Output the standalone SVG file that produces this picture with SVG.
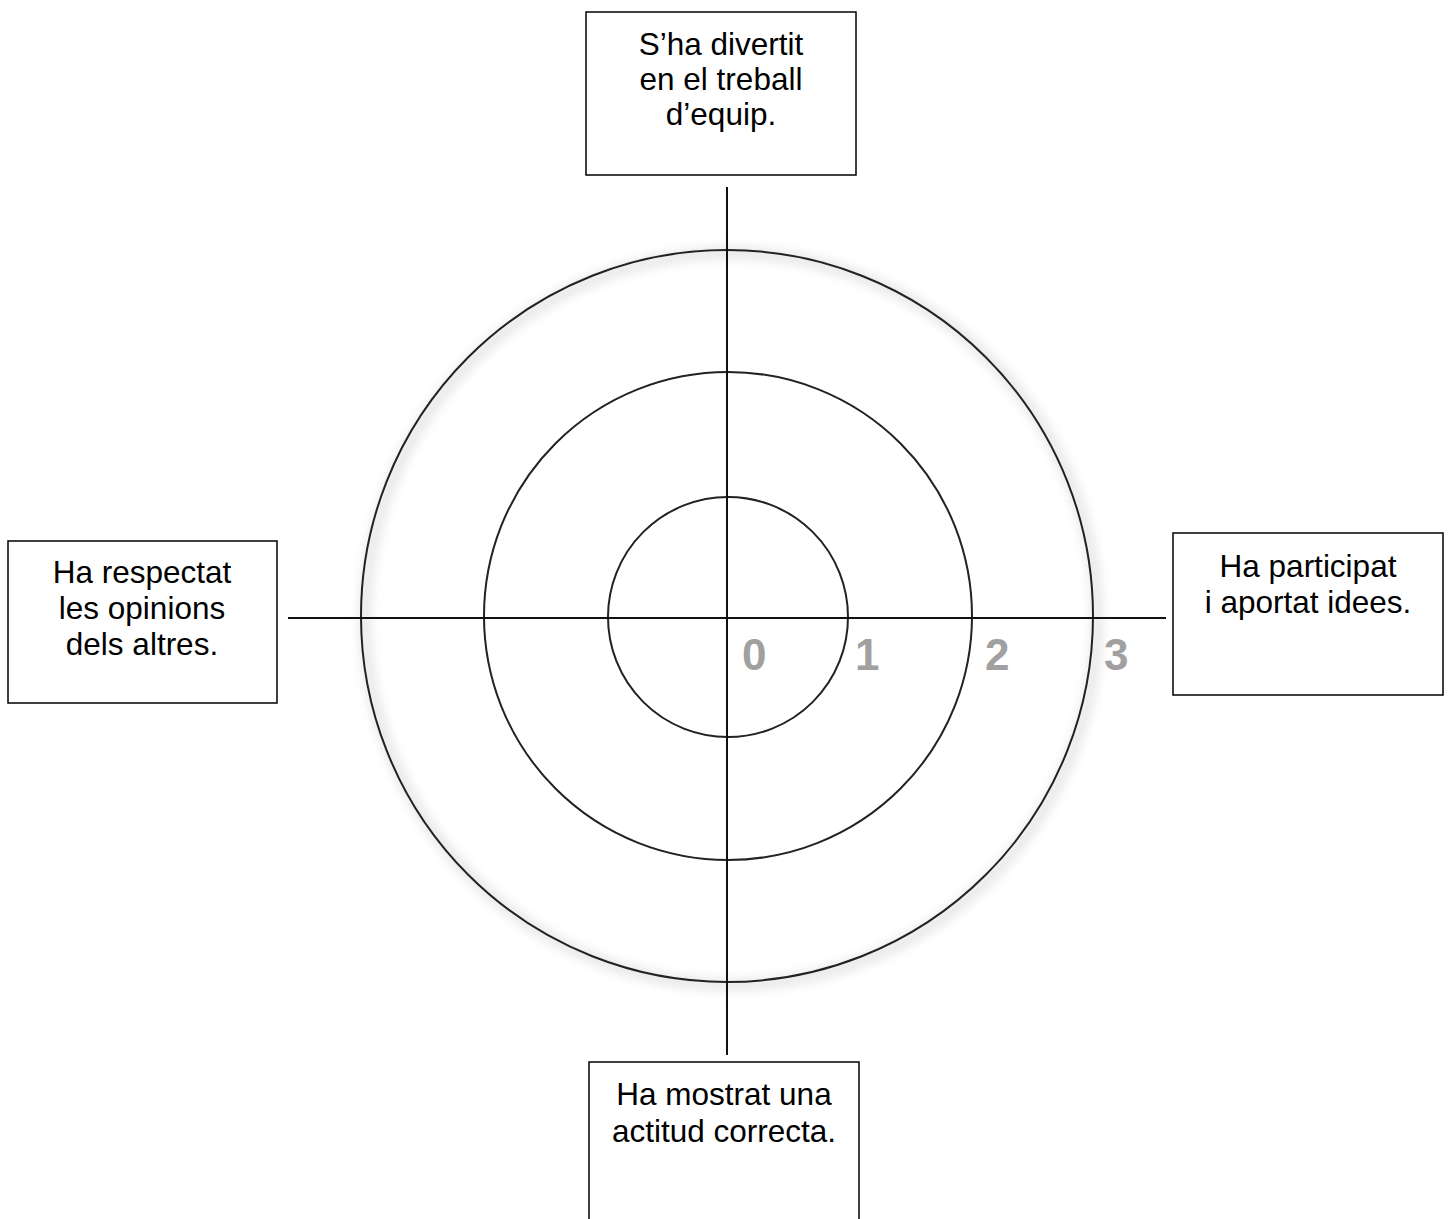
<svg xmlns="http://www.w3.org/2000/svg" width="1450" height="1219" viewBox="0 0 1450 1219">
<style>
.box{fill:#fff;stroke:#000;stroke-width:1.5}
.t{font-family:"Liberation Sans",Arial,sans-serif;font-size:31.5px;fill:#000;text-anchor:middle}
.ring{fill:none;stroke:#222;stroke-width:2}
.ax{stroke:#111;stroke-width:2}
.num{font-family:"Liberation Sans",Arial,sans-serif;font-size:44px;font-weight:bold;fill:#a0a0a0}
</style>
<defs>
<filter id="sh" x="-10%" y="-10%" width="120%" height="120%"><feGaussianBlur stdDeviation="6"/></filter>
</defs>
<rect width="1450" height="1219" fill="#fff"/>
<g id="target">
<circle cx="731" cy="619" r="366" fill="none" stroke="#ddd" stroke-width="8" filter="url(#sh)"/>
<circle class="ring" cx="727" cy="616" r="366"/>
<circle class="ring" cx="728" cy="616" r="244"/>
<circle class="ring" cx="728" cy="617" r="120"/>
<text class="num" x="742" y="670">0</text>
<text class="num" x="855" y="670">1</text>
<text class="num" x="985" y="670">2</text>
<text class="num" x="1104" y="670">3</text>
</g>
<g id="connectors">
<line class="ax" x1="288" y1="618" x2="1166" y2="618"/>
<line class="ax" x1="727" y1="187" x2="727" y2="1055"/>
</g>
<g id="node-top">
<rect class="box" x="586" y="12" width="270" height="163"/>
<text class="t" x="721" y="55">S’ha divertit</text>
<text class="t" x="721" y="90">en el treball</text>
<text class="t" x="721" y="125">d’equip.</text>
</g>
<g id="node-left">
<rect class="box" x="8" y="541" width="269" height="162"/>
<text class="t" x="142" y="583">Ha respectat</text>
<text class="t" x="142" y="619">les opinions</text>
<text class="t" x="142" y="655">dels altres.</text>
</g>
<g id="node-right">
<rect class="box" x="1173" y="533" width="270" height="162"/>
<text class="t" x="1308" y="577">Ha participat</text>
<text class="t" x="1308" y="613">i aportat idees.</text>
</g>
<g id="node-bottom">
<rect class="box" x="589" y="1062" width="270" height="170"/>
<text class="t" x="724" y="1105">Ha mostrat una</text>
<text class="t" x="724" y="1142">actitud correcta.</text>
</g>
</svg>
